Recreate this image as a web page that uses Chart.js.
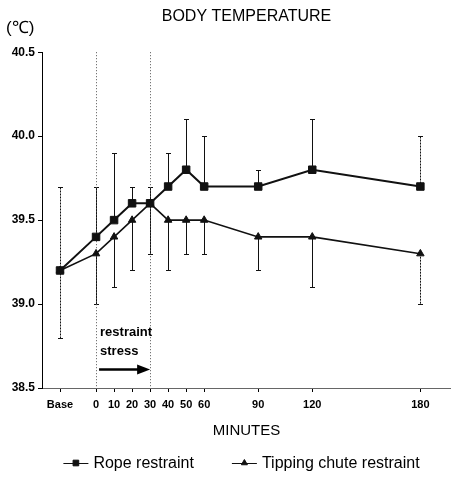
<!DOCTYPE html>
<html>
<head>
<meta charset="utf-8">
<script src="https://cdn.jsdelivr.net/npm/chart.js@4.4.1/dist/chart.umd.min.js"></script>
<style>
  html, body { margin: 0; padding: 0; background: #fff; overflow: hidden; }
  canvas { display: block; }
</style>
</head>
<body>
<canvas id="tempChart" width="451" height="477"></canvas>
<script>
// x positions in minutes; "Base" is plotted 20 min before restraint starts
const minutes = [-20, 0, 10, 20, 30, 40, 50, 60, 90, 120, 180];
const tickLabels = ['Base', '0', '10', '20', '30', '40', '50', '60', '90', '120', '180'];
const yTicks = [38.5, 39.0, 39.5, 40.0, 40.5];

const ropeMean = [39.2, 39.4, 39.5, 39.6, 39.6, 39.7, 39.8, 39.7, 39.7, 39.8, 39.7];
const ropeUpper = [39.7, 39.7, 39.9, 39.7, 39.7, 39.9, 40.1, 40.0, 39.8, 40.1, 40.0];
const chuteMean = [39.2, 39.3, 39.4, 39.5, 39.6, 39.5, 39.5, 39.5, 39.4, 39.4, 39.3];
const chuteLower = [38.8, 39.0, 39.1, 39.2, 39.3, 39.2, 39.3, 39.3, 39.2, 39.1, 39.0];

// restraint stress window (minutes) and where its label sits (deg C)
const stressStart = 0;
const stressEnd = 30;
const stressLabelY = [38.83, 38.72];
const stressArrowY = 38.61;

const FONT = '"Liberation Sans", Arial, sans-serif';
const INK = '#111';

// one-sided error bars (rope goes up, chute goes down)
const errorBars = {
  id: 'errorBars',
  beforeDatasetsDraw(chart) {
    const { ctx, scales: { x, y } } = chart;
    ctx.save();
    ctx.strokeStyle = INK;
    ctx.lineWidth = 1;
    chart.data.datasets.forEach(ds => {
      ds.errorTo.forEach((v, i) => {
        const px = Math.round(x.getPixelForValue(minutes[i])) + 0.5;
        const y0 = y.getPixelForValue(ds.data[i].y);
        const y1 = Math.round(y.getPixelForValue(v)) + 0.5;
        // first and last bars are printed fainter in the original
        ctx.setLineDash(i === 0 || i === minutes.length - 1 ? [2, 1] : []);
        ctx.beginPath();
        ctx.moveTo(px, y0);
        ctx.lineTo(px, y1);
        ctx.stroke();
        ctx.setLineDash([]);
        ctx.beginPath();
        ctx.moveTo(px - 2.5, y1);
        ctx.lineTo(px + 2.5, y1);
        ctx.stroke();
      });
    });
    ctx.restore();
  }
};

// dotted lines + "restraint stress" arrow
const stressMarks = {
  id: 'stressMarks',
  beforeDatasetsDraw(chart) {
    const { ctx, chartArea, scales: { x, y } } = chart;
    const x0 = x.getPixelForValue(stressStart);
    const x1 = x.getPixelForValue(stressEnd);
    ctx.save();
    ctx.strokeStyle = '#555';
    ctx.lineWidth = 1;
    ctx.setLineDash([1, 2]);
    [x0, x1].forEach(px => {
      ctx.beginPath();
      ctx.moveTo(Math.round(px) + 0.5, chartArea.top);
      ctx.lineTo(Math.round(px) + 0.5, chartArea.bottom);
      ctx.stroke();
    });
    ctx.setLineDash([]);

    ctx.fillStyle = '#000';
    ctx.font = 'bold 13px ' + FONT;
    ctx.textAlign = 'left';
    ctx.textBaseline = 'middle';
    ctx.fillText('restraint', x0 + 4, y.getPixelForValue(stressLabelY[0]));
    ctx.fillText('stress', x0 + 4, y.getPixelForValue(stressLabelY[1]));

    const ay = y.getPixelForValue(stressArrowY);
    ctx.strokeStyle = '#000';
    ctx.lineWidth = 2.5;
    ctx.beginPath();
    ctx.moveTo(x0 + 3, ay);
    ctx.lineTo(x1 - 10, ay);
    ctx.stroke();
    ctx.beginPath();
    ctx.moveTo(x1, ay);
    ctx.lineTo(x1 - 13, ay - 5);
    ctx.lineTo(x1 - 13, ay + 5);
    ctx.closePath();
    ctx.fill();
    ctx.restore();
  }
};

// unit label above the y axis
const unitLabel = {
  id: 'unitLabel',
  afterDraw(chart) {
    const { ctx } = chart;
    ctx.save();
    ctx.fillStyle = '#000';
    ctx.font = '17px ' + FONT;
    ctx.textAlign = 'left';
    ctx.textBaseline = 'middle';
    ctx.fillText('(℃)', 6, 28);
    ctx.restore();
  }
};

// legend drawn as line-with-marker samples, centred under the plot
const lineLegend = {
  id: 'lineLegend',
  afterDraw(chart) {
    const { ctx, chartArea } = chart;
    const sampleW = 25, textGap = 5, itemGap = 38;
    ctx.save();
    ctx.font = '16px ' + FONT;
    const items = chart.data.datasets.map(ds => ({
      ds,
      w: sampleW + textGap + ctx.measureText(ds.label).width
    }));
    const total = items.reduce((s, it) => s + it.w, 0) + itemGap * (items.length - 1);
    let cx = (chartArea.left + chartArea.right) / 2 - total / 2 - 5;
    const cy = chart.height - 14;
    items.forEach(({ ds, w }) => {
      ctx.strokeStyle = INK;
      ctx.fillStyle = INK;
      ctx.lineWidth = 1;
      ctx.beginPath();
      ctx.moveTo(cx, cy + 0.5);
      ctx.lineTo(cx + sampleW, cy + 0.5);
      ctx.stroke();
      Chart.helpers.drawPoint(ctx, {
        pointStyle: ds.pointStyle,
        radius: ds.pointStyle === 'rect' ? 4 : 3.5,
        borderWidth: 1
      }, cx + sampleW / 2, cy);
      ctx.fillStyle = '#000';
      ctx.textAlign = 'left';
      ctx.textBaseline = 'middle';
      ctx.fillText(ds.label, cx + sampleW + textGap, cy + 1);
      cx += w + itemGap;
    });
    ctx.restore();
  }
};

new Chart(document.getElementById('tempChart'), {
  type: 'line',
  data: {
    datasets: [
      {
        label: 'Rope restraint',
        data: minutes.map((m, i) => ({ x: m, y: ropeMean[i] })),
        errorTo: ropeUpper,
        borderColor: INK,
        backgroundColor: INK,
        borderWidth: 2,
        pointStyle: 'rect',
        pointRadius: 5.3,
        pointBorderWidth: 1,
        tension: 0
      },
      {
        label: 'Tipping chute restraint',
        data: minutes.map((m, i) => ({ x: m, y: chuteMean[i] })),
        errorTo: chuteLower,
        borderColor: INK,
        backgroundColor: INK,
        borderWidth: 1.6,
        pointStyle: 'triangle',
        pointRadius: 4.3,
        pointBorderWidth: 1,
        tension: 0
      }
    ]
  },
  options: {
    responsive: false,
    animation: false,
    layout: { autoPadding: false, padding: { left: 8, right: 0, top: 0, bottom: 37 } },
    plugins: {
      legend: { display: false },
      tooltip: { enabled: false },
      title: {
        display: true,
        text: 'BODY TEMPERATURE',
        fullSize: false,
        color: '#000',
        font: { family: FONT, size: 16, weight: 'normal' },
        padding: { top: 7, bottom: 26 }
      }
    },
    scales: {
      x: {
        type: 'linear',
        min: -30,
        max: 197,
        afterBuildTicks: s => { s.ticks = minutes.map(v => ({ value: v })); },
        afterFit: s => { s.height = 52; s.paddingLeft = 0; s.paddingRight = 0; },
        grid: { drawOnChartArea: false, drawTicks: true, tickLength: 4, color: '#000' },
        border: { color: '#666', dash: [1, 1] },
        ticks: {
          autoSkip: false,
          maxRotation: 0,
          padding: 6,
          color: '#000',
          font: { family: FONT, size: 11, weight: 'bold' },
          callback: v => tickLabels[minutes.indexOf(v)]
        },
        title: {
          display: true,
          text: 'MINUTES',
          color: '#000',
          font: { family: FONT, size: 15 },
          padding: 0
        }
      },
      y: {
        min: 38.5,
        max: 40.5,
        afterBuildTicks: s => { s.ticks = yTicks.map(v => ({ value: v })); },
        afterFit: s => { s.width = 34; },
        grid: { drawOnChartArea: false, tickLength: 4, color: '#000' },
        border: { color: '#000', width: 1 },
        ticks: {
          padding: 3,
          color: '#000',
          font: { family: FONT, size: 12, weight: 'bold' },
          callback: v => v.toFixed(1)
        }
      }
    }
  },
  plugins: [errorBars, stressMarks, unitLabel, lineLegend]
});
</script>
</body>
</html>
